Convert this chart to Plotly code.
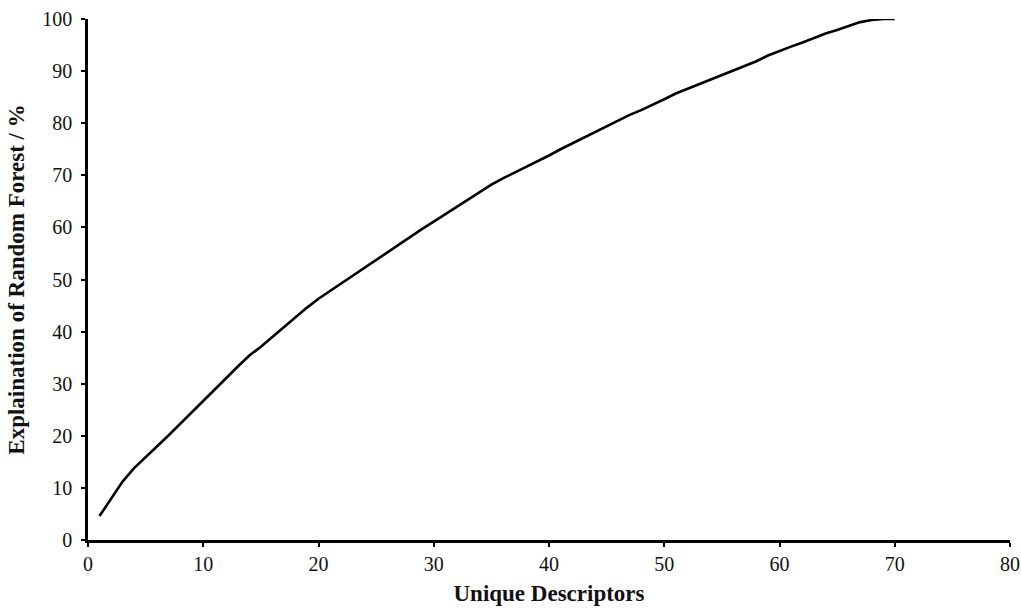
import plotly.graph_objects as go

descriptors = list(range(1, 71))
explanation = [
    4.6, 8.0, 11.2, 13.8, 16.0, 18.0, 20.1, 22.3, 24.6, 26.9,
    29.0, 31.1, 33.3, 35.4, 37.1, 39.0, 40.9, 42.8, 44.6, 46.3,
    47.8, 49.3, 50.8, 52.3, 53.7, 55.2, 56.7, 58.2, 59.7, 61.1,
    62.5, 63.9, 65.3, 66.8, 68.2, 69.4, 70.5, 71.6, 72.6, 73.8,
    75.0, 76.1, 77.3, 78.4, 79.4, 80.5, 81.6, 82.5, 83.5, 84.6,
    85.7, 86.6, 87.5, 88.4, 89.3, 90.2, 91.0, 91.9, 93.0, 93.9,
    94.7, 95.5, 96.4, 97.2, 97.9, 98.6, 99.4, 99.8, 100.0, 100.0,
]

x_title = "Unique Descriptors"
y_title = "Explaination of Random Forest / %"

fig = go.Figure()
fig.add_trace(go.Scatter(
    x=descriptors, y=explanation, mode="lines",
    line=dict(color="black", width=2.6),
    showlegend=False,
))

font_family = "Liberation Serif, Times New Roman, serif"
fig.update_layout(
    width=1021, height=608,
    margin=dict(l=88, r=11, t=19, b=68),
    paper_bgcolor="white", plot_bgcolor="white",
    font=dict(family=font_family, color="#111", size=20),
)
fig.update_xaxes(
    range=[0, 80], tickmode="linear", tick0=0, dtick=10,
    automargin=False,
    showgrid=False, zeroline=False,
    showline=True, linecolor="black", linewidth=2.5,
    ticks="outside", ticklen=4, tickwidth=2, tickcolor="black",
    tickfont=dict(size=20, family=font_family, color="#111"),
    title=dict(text="<b>" + x_title + "</b>", font=dict(size=23, family=font_family, color="#111"), standoff=12),
)
fig.update_yaxes(
    range=[0, 100], tickmode="linear", tick0=0, dtick=10,
    automargin=False,
    showgrid=False, zeroline=False,
    showline=True, linecolor="black", linewidth=2.5,
    ticks="outside", ticklen=4, tickwidth=2, tickcolor="black",
    ticklabelstandoff=5,
    tickfont=dict(size=20, family=font_family, color="#111"),
    title=dict(text="<b>" + y_title + "</b>", font=dict(size=23, family=font_family, color="#111"), standoff=12),
)

fig.write_html("out.html")
